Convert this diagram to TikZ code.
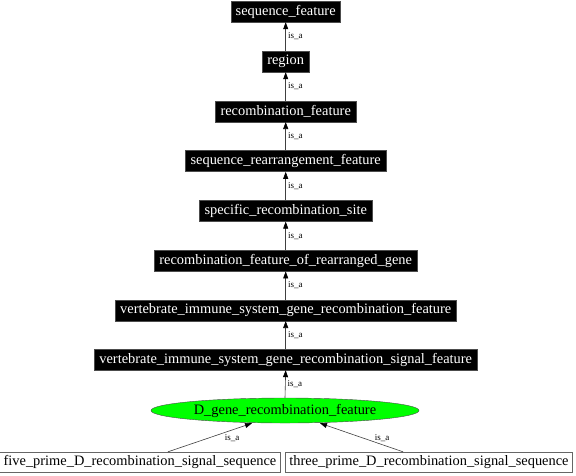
\documentclass[tikz,border=0pt]{standalone}
\usepackage{fontspec}
\setmainfont{Liberation Serif}
\usetikzlibrary{arrows.meta,shapes.geometric}
\begin{document}
\begin{tikzpicture}[x=1pt,y=-1pt,
  term/.style={rectangle,fill=black,draw=black!70,text=white,inner xsep=5pt,inner ysep=0pt,minimum height=21pt,font=\fontsize{14.4}{16}\selectfont},
  leaf/.style={rectangle,fill=white,draw=black!60,text=black,inner xsep=4pt,inner ysep=0pt,minimum height=20pt,font=\fontsize{14.4}{16}\selectfont},
  focus/.style={ellipse,fill=green,draw=black!70,inner sep=0pt,minimum width=268pt,minimum height=25pt,font=\fontsize{14.4}{16}\selectfont},
  isa/.style={draw=black!75,line width=0.6pt,-{Triangle[length=7pt,width=5pt,color=black]}},
  lab/.style={font=\fontsize{9}{10}\selectfont,inner sep=0pt}]
\useasboundingbox (0,0) rectangle (576,475);
\node[term] (n1) at (285.7,11.5) {sequence\_feature};
\node[term] (n2) at (285.7,61.5) {region};
\node[term] (n3) at (285.7,111.3) {recombination\_feature};
\node[term] (n4) at (285.7,161.1) {sequence\_rearrangement\_feature};
\node[term] (n5) at (285.7,210.9) {specific\_recombination\_site};
\node[term] (n6) at (285.7,260.7) {recombination\_feature\_of\_rearranged\_gene};
\node[term] (n7) at (285.7,310.3) {vertebrate\_immune\_system\_gene\_recombination\_feature};
\node[term] (n8) at (285.7,359.5) {vertebrate\_immune\_system\_gene\_recombination\_signal\_feature};
\node[focus] (n9) at (285,410.5) {D\_gene\_recombination\_feature};
\node[leaf] (l1) at (140,462) {five\_prime\_D\_recombination\_signal\_sequence};
\node[leaf] (l2) at (429,462) {three\_prime\_D\_recombination\_signal\_sequence};
\foreach \a/\b in {n2/n1,n3/n2,n4/n3,n5/n4,n6/n5,n7/n6,n8/n7,n9/n8}{
  \draw[isa] (\a.north) -- node[lab,anchor=west,xshift=2pt] {is\_a} (\b.south);
}
\draw[isa] ([xshift=28pt]l1.north) -- ([xshift=-33pt]n9.south);
\draw[isa] ([xshift=-26pt]l2.north) -- ([xshift=35pt]n9.south);
\node[lab] (e1) at (232,438) {is\_a};
\node[lab] (e2) at (382,438) {is\_a};
\end{tikzpicture}
\end{document}
